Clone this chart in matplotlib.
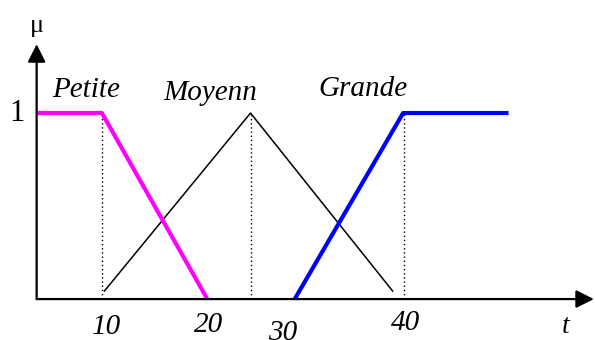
import matplotlib
matplotlib.use("Agg")
import matplotlib.pyplot as plt

# membership functions mu(t)
petite_t = [3.5, 10, 20.5]
petite_mu = [1, 1, 0]
moyenn_t = [10.2, 24.8, 39.0]
moyenn_mu = [0.04, 1, 0.04]
grande_t = [29.2, 40, 50.5]
grande_mu = [0, 1, 1]

# dotted guides at the break points
guide_t = [10, 24.8, 40.1]

set_names = ["Petite", "Moyenn", "Grande"]
set_label_t = [8.4, 20.8, 36.0]
set_label_mu = [1.125, 1.105, 1.13]

tick_vals = ["10", "20", "30", "40"]
tick_t = [10.5, 20.6, 28.0, 40.2]
tick_mu = [-0.15, -0.14, -0.18, -0.13]

serif = "Liberation Serif"

fig = plt.figure(figsize=(5.95, 3.4), dpi=100)
ax = fig.add_axes([0, 0, 1, 1])
ax.set_xlim(-0.15, 59.11)
ax.set_ylim(-0.22, 1.6075)
ax.axis("off")

# axes with arrow heads
arrow = dict(arrowstyle="-|>", mutation_scale=27, lw=1.6, color="black",
             shrinkA=0, shrinkB=0)
ax.annotate("", xy=(59.0, 0), xytext=(3.5, 0), arrowprops=arrow)
ax.annotate("", xy=(3.5, 1.37), xytext=(3.5, 0), arrowprops=arrow)

for t in guide_t:
    ax.plot([t, t], [0, 1], color="black", lw=1.0, ls=(0, (1, 2)))

ax.plot(moyenn_t, moyenn_mu, color="black", lw=1.1, solid_capstyle="butt")
ax.plot(petite_t, petite_mu, color="#ff00ff", lw=3.0, solid_capstyle="butt")
ax.plot(grande_t, grande_mu, color="#0000ff", lw=3.0, solid_capstyle="butt")

for name, t, m in zip(set_names, set_label_t, set_label_mu):
    ax.text(t, m, name, family=serif, style="italic", fontsize=21,
            ha="center", va="center")

for s, t, m in zip(tick_vals, tick_t, tick_mu):
    ax.text(t, m, s, family=serif, style="italic", fontsize=21,
            ha="center", va="center")

ax.text(56.2, -0.15, "t", family=serif, style="italic", fontsize=20,
        ha="center", va="center")
ax.text(1.55, 1.0, "1", family=serif, fontsize=22, ha="center", va="center")
ax.text(3.55, 1.47, "μ", family=serif, fontsize=19, ha="center", va="center")

fig.savefig("out.png", dpi=100)
